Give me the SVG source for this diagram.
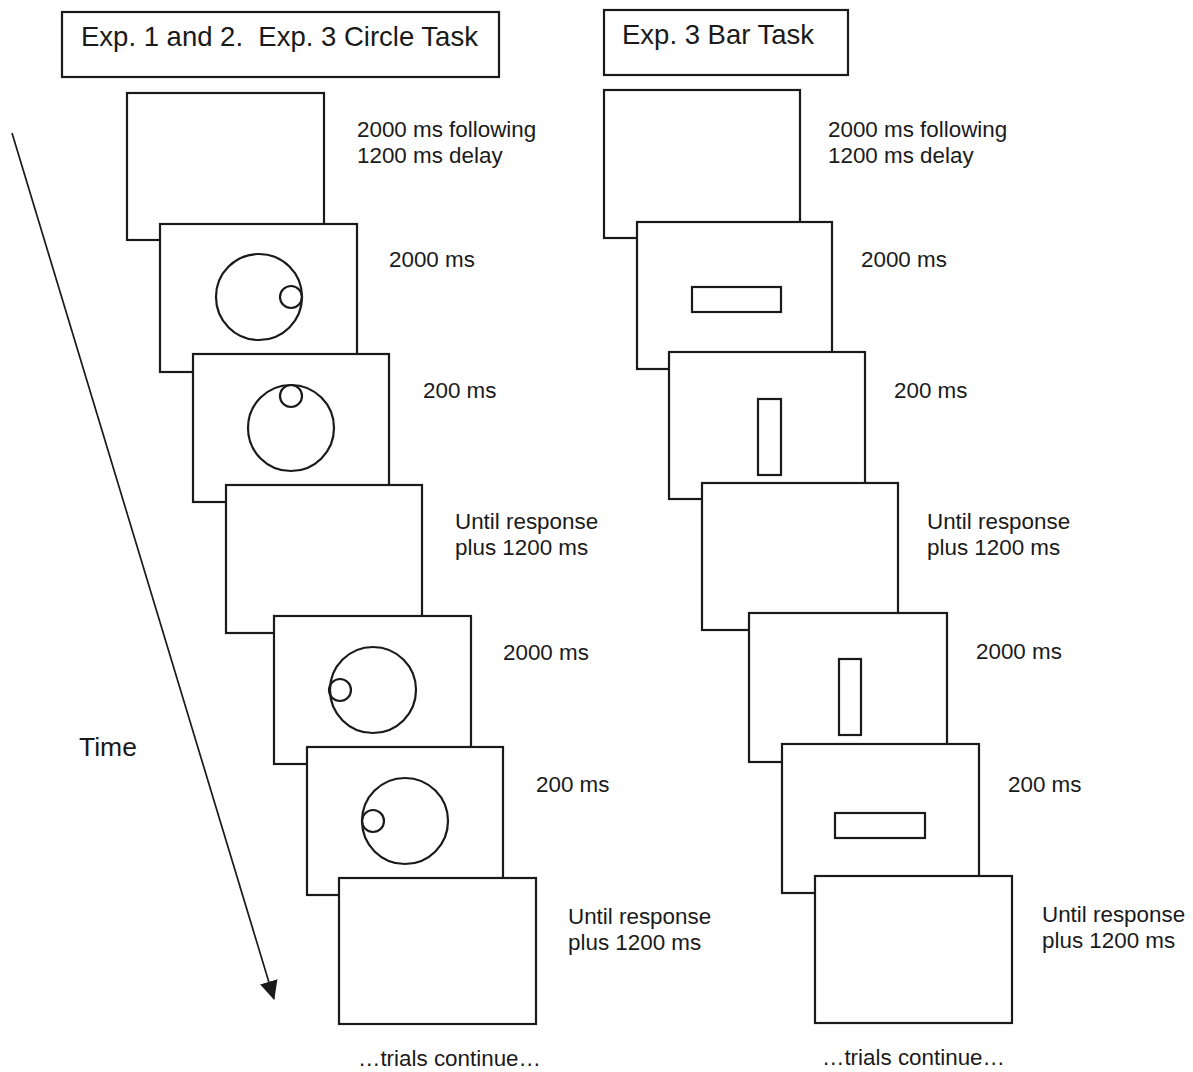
<svg xmlns="http://www.w3.org/2000/svg" width="1193" height="1072" viewBox="0 0 1193 1072">
<style>
.frame{fill:#fff;stroke:#1a1a1a;stroke-width:2.2}
.shape{fill:none;stroke:#1a1a1a;stroke-width:2.2}
.hdr{fill:#fff;stroke:#1a1a1a;stroke-width:2.2}
text{font-family:"Liberation Sans",Arial,sans-serif;fill:#1a1a1a}
.lbl{font-size:22.4px}
.htxt{font-size:27.5px;white-space:pre}
.time{font-size:26.5px}
</style>
<defs>
<marker id="ah" markerUnits="userSpaceOnUse" markerWidth="20" markerHeight="20" viewBox="0 0 20 20" refX="18" refY="10" orient="auto">
<path d="M0,1 L19,10 L0,19 Z" fill="#1a1a1a"/>
</marker>
</defs>
<g id="header-left"><rect class="hdr" x="62" y="12" width="437" height="65"/><text class="htxt" x="81" y="46">Exp. 1 and 2.  Exp. 3 Circle Task</text></g>
<g id="header-right"><rect class="hdr" x="604" y="10" width="244" height="65"/><text class="htxt" x="622" y="44">Exp. 3 Bar Task</text></g>
<g id="connectors"><line x1="12" y1="133" x2="274" y2="999" stroke="#1a1a1a" stroke-width="1.7" marker-end="url(#ah)"/></g>
<text class="time" x="79" y="756">Time</text>
<g id="L1"><rect class="frame" x="127" y="93" width="197" height="147"/><text class="lbl" x="357" y="137">2000 ms following</text><text class="lbl" x="357" y="163">1200 ms delay</text></g>
<g id="L2"><rect class="frame" x="160" y="224" width="197" height="148"/><circle class="shape" cx="259" cy="297" r="43"/><circle class="shape" cx="291" cy="297" r="11"/><text class="lbl" x="389" y="267">2000 ms</text></g>
<g id="L3"><rect class="frame" x="193" y="354" width="196" height="148"/><circle class="shape" cx="291" cy="428" r="43"/><circle class="shape" cx="291" cy="396" r="11"/><text class="lbl" x="423" y="398">200 ms</text></g>
<g id="L4"><rect class="frame" x="226" y="485" width="196" height="148"/><text class="lbl" x="455" y="529">Until response</text><text class="lbl" x="455" y="555">plus 1200 ms</text></g>
<g id="L5"><rect class="frame" x="274" y="616" width="197" height="148"/><circle class="shape" cx="373" cy="690" r="43"/><circle class="shape" cx="340" cy="690" r="11"/><text class="lbl" x="503" y="660">2000 ms</text></g>
<g id="L6"><rect class="frame" x="307" y="747" width="196" height="148"/><circle class="shape" cx="405" cy="821" r="43"/><circle class="shape" cx="373" cy="821" r="11"/><text class="lbl" x="536" y="792">200 ms</text></g>
<g id="L7"><rect class="frame" x="339" y="878" width="197" height="146"/><text class="lbl" x="568" y="924">Until response</text><text class="lbl" x="568" y="950">plus 1200 ms</text></g>
<text class="lbl" x="358" y="1066">…trials continue…</text>
<g id="R1"><rect class="frame" x="604" y="90" width="196" height="148"/><text class="lbl" x="828" y="137">2000 ms following</text><text class="lbl" x="828" y="163">1200 ms delay</text></g>
<g id="R2"><rect class="frame" x="637" y="222" width="195" height="147"/><rect class="shape" x="692" y="287" width="89" height="25"/><text class="lbl" x="861" y="267">2000 ms</text></g>
<g id="R3"><rect class="frame" x="669" y="352" width="196" height="147"/><rect class="shape" x="758" y="399" width="23" height="76"/><text class="lbl" x="894" y="398">200 ms</text></g>
<g id="R4"><rect class="frame" x="702" y="483" width="196" height="147"/><text class="lbl" x="927" y="529">Until response</text><text class="lbl" x="927" y="555">plus 1200 ms</text></g>
<g id="R5"><rect class="frame" x="749" y="613" width="198" height="149"/><rect class="shape" x="839" y="659" width="22" height="76"/><text class="lbl" x="976" y="659">2000 ms</text></g>
<g id="R6"><rect class="frame" x="782" y="744" width="197" height="149"/><rect class="shape" x="835" y="813" width="90" height="25"/><text class="lbl" x="1008" y="792">200 ms</text></g>
<g id="R7"><rect class="frame" x="815" y="876" width="197" height="147"/><text class="lbl" x="1042" y="922">Until response</text><text class="lbl" x="1042" y="948">plus 1200 ms</text></g>
<text class="lbl" x="822" y="1065">…trials continue…</text>
</svg>
